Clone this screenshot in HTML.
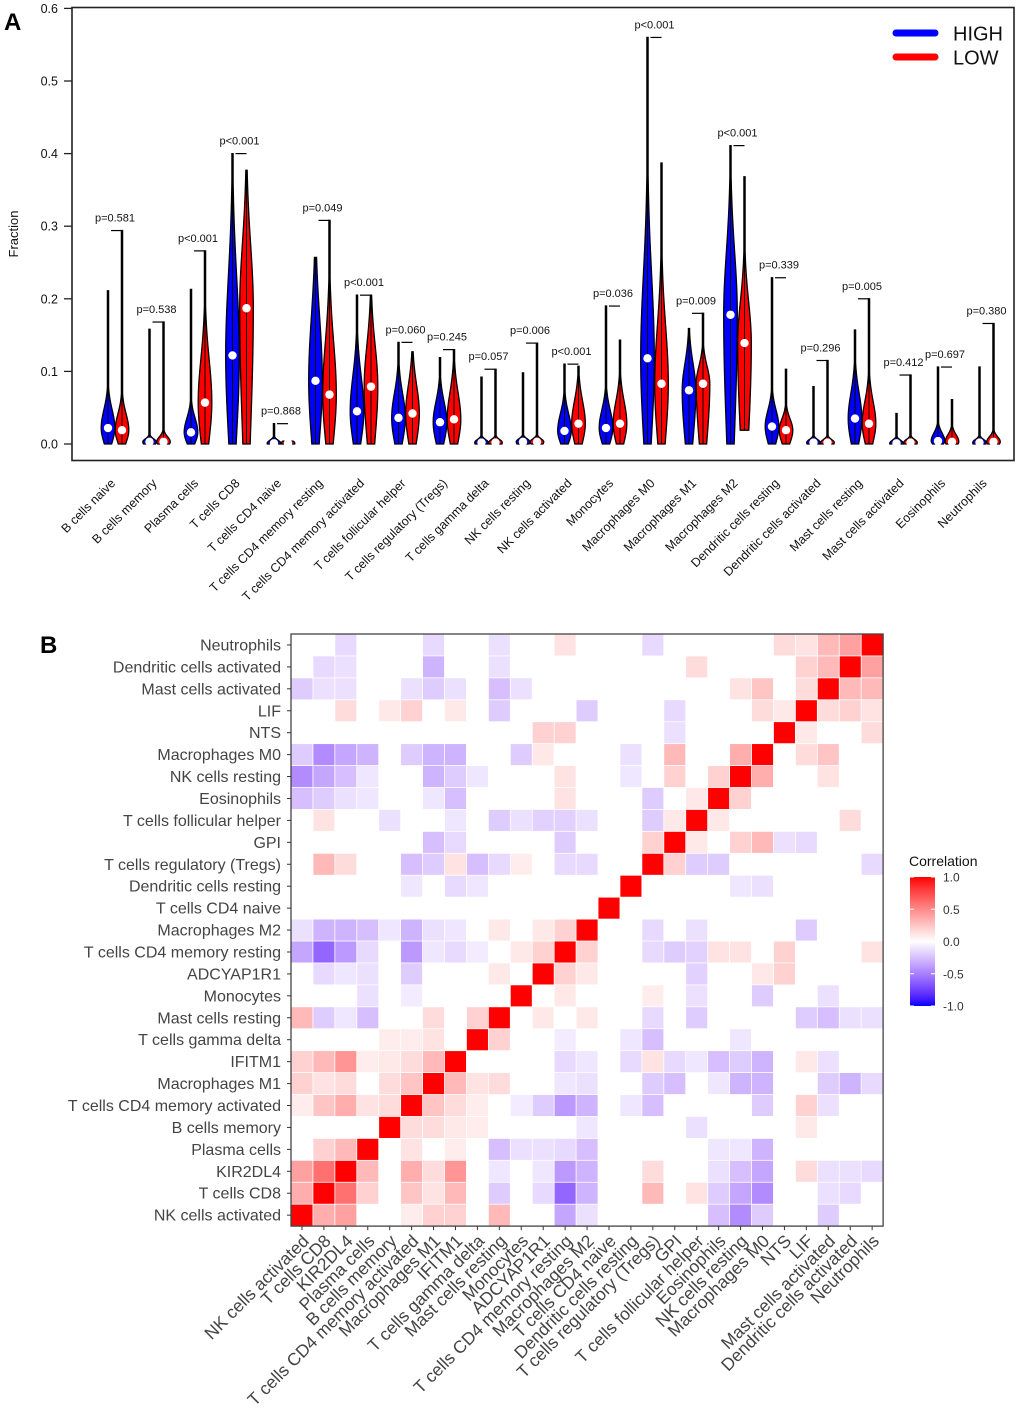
<!DOCTYPE html>
<html><head><meta charset="utf-8"><style>
html,body{margin:0;padding:0;background:#fff;}
svg text{font-family:"Liberation Sans",Arial,sans-serif;}
</style></head><body>
<svg id="fig" width="1020" height="1418" viewBox="0 0 1020 1418" xmlns="http://www.w3.org/2000/svg">
<text x="4" y="30" font-size="24" font-weight="bold">A</text>
<text x="40" y="653" font-size="24" font-weight="bold">B</text>
<g id="violinPanel"></g>
<g id="heatPanel"></g>
</svg>
<script>
// ---------- Panel A data ----------
const cellTypes = ["B cells naive","B cells memory","Plasma cells","T cells CD8","T cells CD4 naive","T cells CD4 memory resting","T cells CD4 memory activated","T cells follicular helper","T cells regulatory (Tregs)","T cells gamma delta","NK cells resting","NK cells activated","Monocytes","Macrophages M0","Macrophages M1","Macrophages M2","Dendritic cells resting","Dendritic cells activated","Mast cells resting","Mast cells activated","Eosinophils","Neutrophils"];
const highMax = [0.211,0.158,0.213,0.40,0.028,0.257,0.205,0.14,0.119,0.092,0.098,0.11,0.19,0.56,0.159,0.411,0.229,0.079,0.157,0.042,0.106,0.106];
const highMed = [0.022,0.003,0.016,0.122,0.001,0.087,0.045,0.036,0.03,0.002,0.003,0.018,0.022,0.118,0.074,0.178,0.024,0.002,0.035,0.001,0.004,0.002];
const highQ3 = [0.04,0.006,0.03,0.2,0.001,0.15,0.08,0.06,0.05,0.005,0.006,0.035,0.04,0.2,0.1,0.24,0.04,0.005,0.06,0.002,0.012,0.005];
const highMin = [0,0,0,0,0,0,0,0,0,0,0,0,0,0,0,0,0,0,0,0,0,0];
const lowMax = [0.294,0.168,0.266,0.377,0.004,0.308,0.205,0.127,0.13,0.103,0.139,0.107,0.143,0.387,0.18,0.368,0.103,0.115,0.20,0.095,0.061,0.166];
const lowMed = [0.019,0.003,0.057,0.187,0.001,0.068,0.079,0.042,0.034,0.002,0.003,0.028,0.028,0.083,0.083,0.139,0.019,0.002,0.028,0.002,0.003,0.003];
const lowQ3 = [0.035,0.008,0.1,0.25,0.001,0.12,0.12,0.07,0.06,0.005,0.006,0.05,0.05,0.14,0.1,0.18,0.03,0.005,0.05,0.005,0.01,0.008];
const lowMin = [0,0,0,0,0,0,0,0,0,0,0,0,0,0,0,0.019,0,0,0,0,0,0];
const pLabels = ["p=0.581","p=0.538","p<0.001","p<0.001","p=0.868","p=0.049","p<0.001","p=0.060","p=0.245","p=0.057","p=0.006","p<0.001","p=0.036","p<0.001","p=0.009","p<0.001","p=0.339","p=0.296","p=0.005","p=0.412","p=0.697","p=0.380"];
const yTicks = [0,0.1,0.2,0.3,0.4,0.5,0.6];

// ---------- Panel B data ----------
const vars = ["NK cells activated","T cells CD8","KIR2DL4","Plasma cells","B cells memory","T cells CD4 memory activated","Macrophages M1","IFITM1","T cells gamma delta","Mast cells resting","Monocytes","ADCYAP1R1","T cells CD4 memory resting","Macrophages M2","T cells CD4 naive","Dendritic cells resting","T cells regulatory (Tregs)","GPI","T cells follicular helper","Eosinophils","NK cells resting","Macrophages M0","NTS","LIF","Mast cells activated","Dendritic cells activated","Neutrophils"];
// pairs [rowVar, colVar, r] (rowVar > colVar); matrix is symmetric, diagonal = 1
const corrPairs = [
[26,2,-.15],[26,6,-.15],[26,9,-.12],[26,12,.12],[26,16,-.15],[26,22,.15],[26,23,.12],[26,24,.3],[26,25,.4],
[25,1,-.15],[25,2,-.12],[25,6,-.3],[25,9,-.12],[25,18,.15],[25,23,.2],[25,24,.3],
[24,0,-.2],[24,1,-.12],[24,2,-.12],[24,5,-.12],[24,6,-.2],[24,7,-.12],[24,9,-.25],[24,10,-.12],[24,20,.12],[24,21,.25],[24,23,.15],
[23,2,.15],[23,4,.1],[23,5,.2],[23,7,.1],[23,9,-.2],[23,13,-.2],[23,17,-.15],[23,21,.15],[23,22,.1],
[22,11,.2],[22,12,.2],[22,17,-.12],
[21,0,-.2],[21,1,-.45],[21,2,-.35],[21,3,-.3],[21,5,-.2],[21,6,-.3],[21,7,-.3],[21,10,-.2],[21,11,.1],[21,15,-.12],[21,17,.3],[21,20,.35],
[20,0,-.45],[20,1,-.35],[20,2,-.25],[20,3,-.1],[20,6,-.3],[20,7,-.2],[20,8,-.1],[20,12,.12],[20,15,-.1],[20,17,.2],[20,19,.2],
[19,0,-.25],[19,1,-.2],[19,2,-.12],[19,3,-.1],[19,6,-.1],[19,7,-.25],[19,12,.12],[19,16,-.2],[19,18,.1],
[18,1,.12],[18,4,-.12],[18,7,-.1],[18,9,-.2],[18,10,-.12],[18,11,-.18],[18,12,-.18],[18,13,-.12],[18,16,-.2],[18,17,.1],
[17,6,-.25],[17,7,-.15],[17,12,-.2],[17,16,.2],
[16,1,.3],[16,2,.15],[16,5,-.25],[16,6,-.2],[16,7,.12],[16,8,-.25],[16,9,-.15],[16,10,.08],[16,12,-.15],[16,13,-.15],
[15,5,-.1],[15,7,-.15],[15,8,-.1],
[13,0,-.12],[13,1,-.3],[13,2,-.3],[13,3,-.25],[13,4,-.1],[13,5,-.3],[13,6,-.12],[13,7,-.1],[13,9,.1],[13,11,.1],[13,12,.2],
[12,0,-.35],[12,1,-.6],[12,2,-.4],[12,3,-.15],[12,5,-.4],[12,6,-.1],[12,7,-.15],[12,8,-.08],[12,10,.1],[12,11,.2],
[11,1,-.15],[11,2,-.1],[11,3,-.12],[11,5,-.2],[11,9,.1],
[10,3,-.12],[10,5,-.08],
[9,0,.3],[9,1,-.2],[9,2,-.1],[9,3,-.25],[9,6,.15],[9,8,.2],
[8,4,.08],[8,5,.08],[8,6,.12],
[7,0,.2],[7,1,.3],[7,2,.45],[7,3,.08],[7,4,.1],[7,5,.15],[7,6,.3],
[6,0,.2],[6,1,.12],[6,2,.15],[6,4,.15],[6,5,.25],
[5,0,.08],[5,1,.25],[5,2,.35],[5,3,.12],[5,4,.15],
[3,1,.2],[3,2,.3],
[2,0,.4],[2,1,.6],
[1,0,.35]
];
const legendTicks = [1.0,0.5,0.0,-0.5,-1.0];

const NS = "http://www.w3.org/2000/svg";
function mk(tag, attrs, parent){
  const e = document.createElementNS(NS, tag);
  for (const k in attrs) e.setAttribute(k, attrs[k]);
  parent.appendChild(e);
  return e;
}

// ---------- Panel A ----------
(function(){
  const g = document.getElementById('violinPanel');
  const y = v => 444 - 726*v;
  const xHigh = i => 108 + 41.5*i;
  const xLow = i => 122 + 41.5*i;
  const frame = mk('rect',{x:72,y:7.5,width:942,height:453,fill:'none',stroke:'#222','stroke-width':1.6},g);
  
  
  yTicks.forEach(t=>{
    const l = mk('line',{x1:64,x2:72,y1:y(t),y2:y(t),stroke:'#222','stroke-width':1.3},g);
    
    
    const tx = mk('text',{x:58,y:y(t)+4.5,'font-size':12.5,'text-anchor':'end',fill:'#111'},g);
    tx.textContent = t.toFixed(1);
    
    
  });
  const yl = mk('text',{x:0,y:0,'font-size':13,'text-anchor':'middle',transform:'translate(18,234) rotate(-90)',fill:'#111'},g);
  yl.textContent='Fraction';
  
  

  function violin(cx, mn, med, q3, mx, color, name){
    const W = 6.8;
    const sdLo = Math.max(med*0.9, 0.006);
    const sdHi = Math.max(q3-med, 0.003)*1.4;
    const pts = [];
    const N = 80;
    for (let k=0;k<=N;k++){
      const v = mn + (mx-mn)*k/N;
      const d = v<med ? (v-med)/sdLo : (v-med)/sdHi;
      let w = W*Math.exp(-d*d/2);
      w = Math.max(w, 0.6);
      pts.push([v,w]);
    }
    let dstr = '';
    pts.forEach((p,k)=>{ dstr += (k?'L':'M') + (cx-p[1]).toFixed(2)+','+y(p[0]).toFixed(2); });
    for (let k=pts.length-1;k>=0;k--){ dstr += 'L'+(cx+pts[k][1]).toFixed(2)+','+y(pts[k][0]).toFixed(2); }
    dstr += 'Z';
    const p = mk('path',{d:dstr,fill:color,stroke:'#000','stroke-width':1.3},g);
    
    
    const c = mk('line',{x1:cx,x2:cx,y1:y(mn),y2:y(mx),stroke:'#000','stroke-width':1},g);
    
    
    const dot = mk('circle',{cx:cx,cy:y(med),r:4.2,fill:'#fff'},g);
    
    
  }

  cellTypes.forEach((name,i)=>{
    violin(xHigh(i), highMin[i], highMed[i], highQ3[i], highMax[i], '#0000ff', 'violin-high');
    violin(xLow(i), lowMin[i], lowMed[i], lowQ3[i], lowMax[i], '#ff0000', 'violin-low');
    const top = Math.max(highMax[i], lowMax[i]);
    const b = mk('line',{x1:xHigh(i)+3,x2:xLow(i),y1:y(top),y2:y(top),stroke:'#000','stroke-width':1.2},g);
    
    
    const cx = (xHigh(i)+xLow(i))/2;
    const pt = mk('text',{x:cx,y:y(top)-9,'font-size':11,'text-anchor':'middle',fill:'#111'},g);
    pt.textContent = pLabels[i];
    
    
    const xl = mk('text',{x:0,y:0,'font-size':12.5,'text-anchor':'end',fill:'#111',transform:`translate(${cx+1},${484}) rotate(-45)`},g);
    xl.textContent = name;
    
    
  });

  // legend
  const lg = mk('g',{},g);
  
  
  [['HIGH','#0000ff',33],['LOW','#ff0000',57]].forEach(([lab,col,yy])=>{
    const l = mk('line',{x1:896,x2:935,y1:yy,y2:yy,stroke:col,'stroke-width':7,'stroke-linecap':'round'},lg);
    
    
    const t = mk('text',{x:953,y:yy+7.5,'font-size':20,fill:'#111'},lg);
    t.textContent = lab;
    
    
  });
})();

// ---------- Panel B ----------
function corrColor(v){
  const t = Math.min(1, Math.abs(v));
  if (v >= 0){
    const gb = Math.round(255*Math.pow(1-t,0.9));
    return `rgb(255,${gb},${gb})`;
  } else {
    const r = Math.round(255*Math.pow(1-t,0.6));
    const gg = Math.round(255*(1-t));
    return `rgb(${r},${gg},255)`;
  }
}
(function(){
  const g = document.getElementById('heatPanel');
  const n = vars.length;
  const x0 = 291, y0 = 634, cs = 21.93;
  const M = [];
  for (let a=0;a<n;a++){ M.push(new Array(n).fill(0)); M[a][a]=1; }
  corrPairs.forEach(([a,b,v])=>{ M[a][b]=v; M[b][a]=v; });
  const cx = j => x0 + j*cs;
  const cy = a => y0 + (n-1-a)*cs;
  for (let a=0;a<n;a++){
    for (let j=0;j<n;j++){
      const v = M[a][j];
      if (v === 0) continue;
      const r = mk('rect',{x:cx(j)+0.4,y:cy(a)+0.4,width:cs-0.8,height:cs-0.8,fill:corrColor(v)},g);
      
      
    }
  }
  const fr = mk('rect',{x:x0,y:y0,width:n*cs,height:n*cs,fill:'none',stroke:'#444','stroke-width':1.3},g);
  
  
  vars.forEach((name,a)=>{
    const yy = cy(a)+cs/2;
    const tk = mk('line',{x1:x0-4,x2:x0,y1:yy,y2:yy,stroke:'#333','stroke-width':1},g);
    
    
    const t = mk('text',{x:x0-10,y:yy+5.5,'font-size':16,'text-anchor':'end',fill:'#444'},g);
    t.textContent = name;
    
    
    const xx = cx(a)+cs/2;
    const tk2 = mk('line',{x1:xx,x2:xx,y1:y0+n*cs,y2:y0+n*cs+4,stroke:'#333','stroke-width':1},g);
    
    
    const t2 = mk('text',{x:0,y:0,'font-size':17.5,'text-anchor':'end',fill:'#444',transform:`translate(${xx+8},${y0+n*cs+16}) rotate(-45)`},g);
    t2.textContent = name;
    
    
  });
  // legend
  const lg = mk('g',{},g);
  
  
  const tt = mk('text',{x:909,y:866,'font-size':14,fill:'#111'},lg);
  tt.textContent='Correlation';
  
  
  const defs = mk('defs',{},lg);
  const grad = mk('linearGradient',{id:'cg',x1:0,y1:0,x2:0,y2:1},defs);
  for (let k=0;k<=20;k++){
    const v = 1 - k/10;
    mk('stop',{offset:(k/20),'stop-color':corrColor(v)},grad);
  }
  const bt = 877, bb = 1006;
  const bar = mk('rect',{x:910,y:bt,width:25,height:bb-bt,fill:'url(#cg)'},lg);
  
  
  legendTicks.forEach(v=>{
    const yy = bt + (1-v)/2*(bb-bt);
    const l1 = mk('line',{x1:910,x2:914,y1:yy,y2:yy,stroke:'#fff','stroke-width':1},lg);
    
    
    const l2 = mk('line',{x1:931,x2:935,y1:yy,y2:yy,stroke:'#fff','stroke-width':1},lg);
    
    
    const t = mk('text',{x:943,y:yy+4.5,'font-size':12,fill:'#333'},lg);
    t.textContent = v.toFixed(1);
    
    
  });
})();
</script>
</body></html>
